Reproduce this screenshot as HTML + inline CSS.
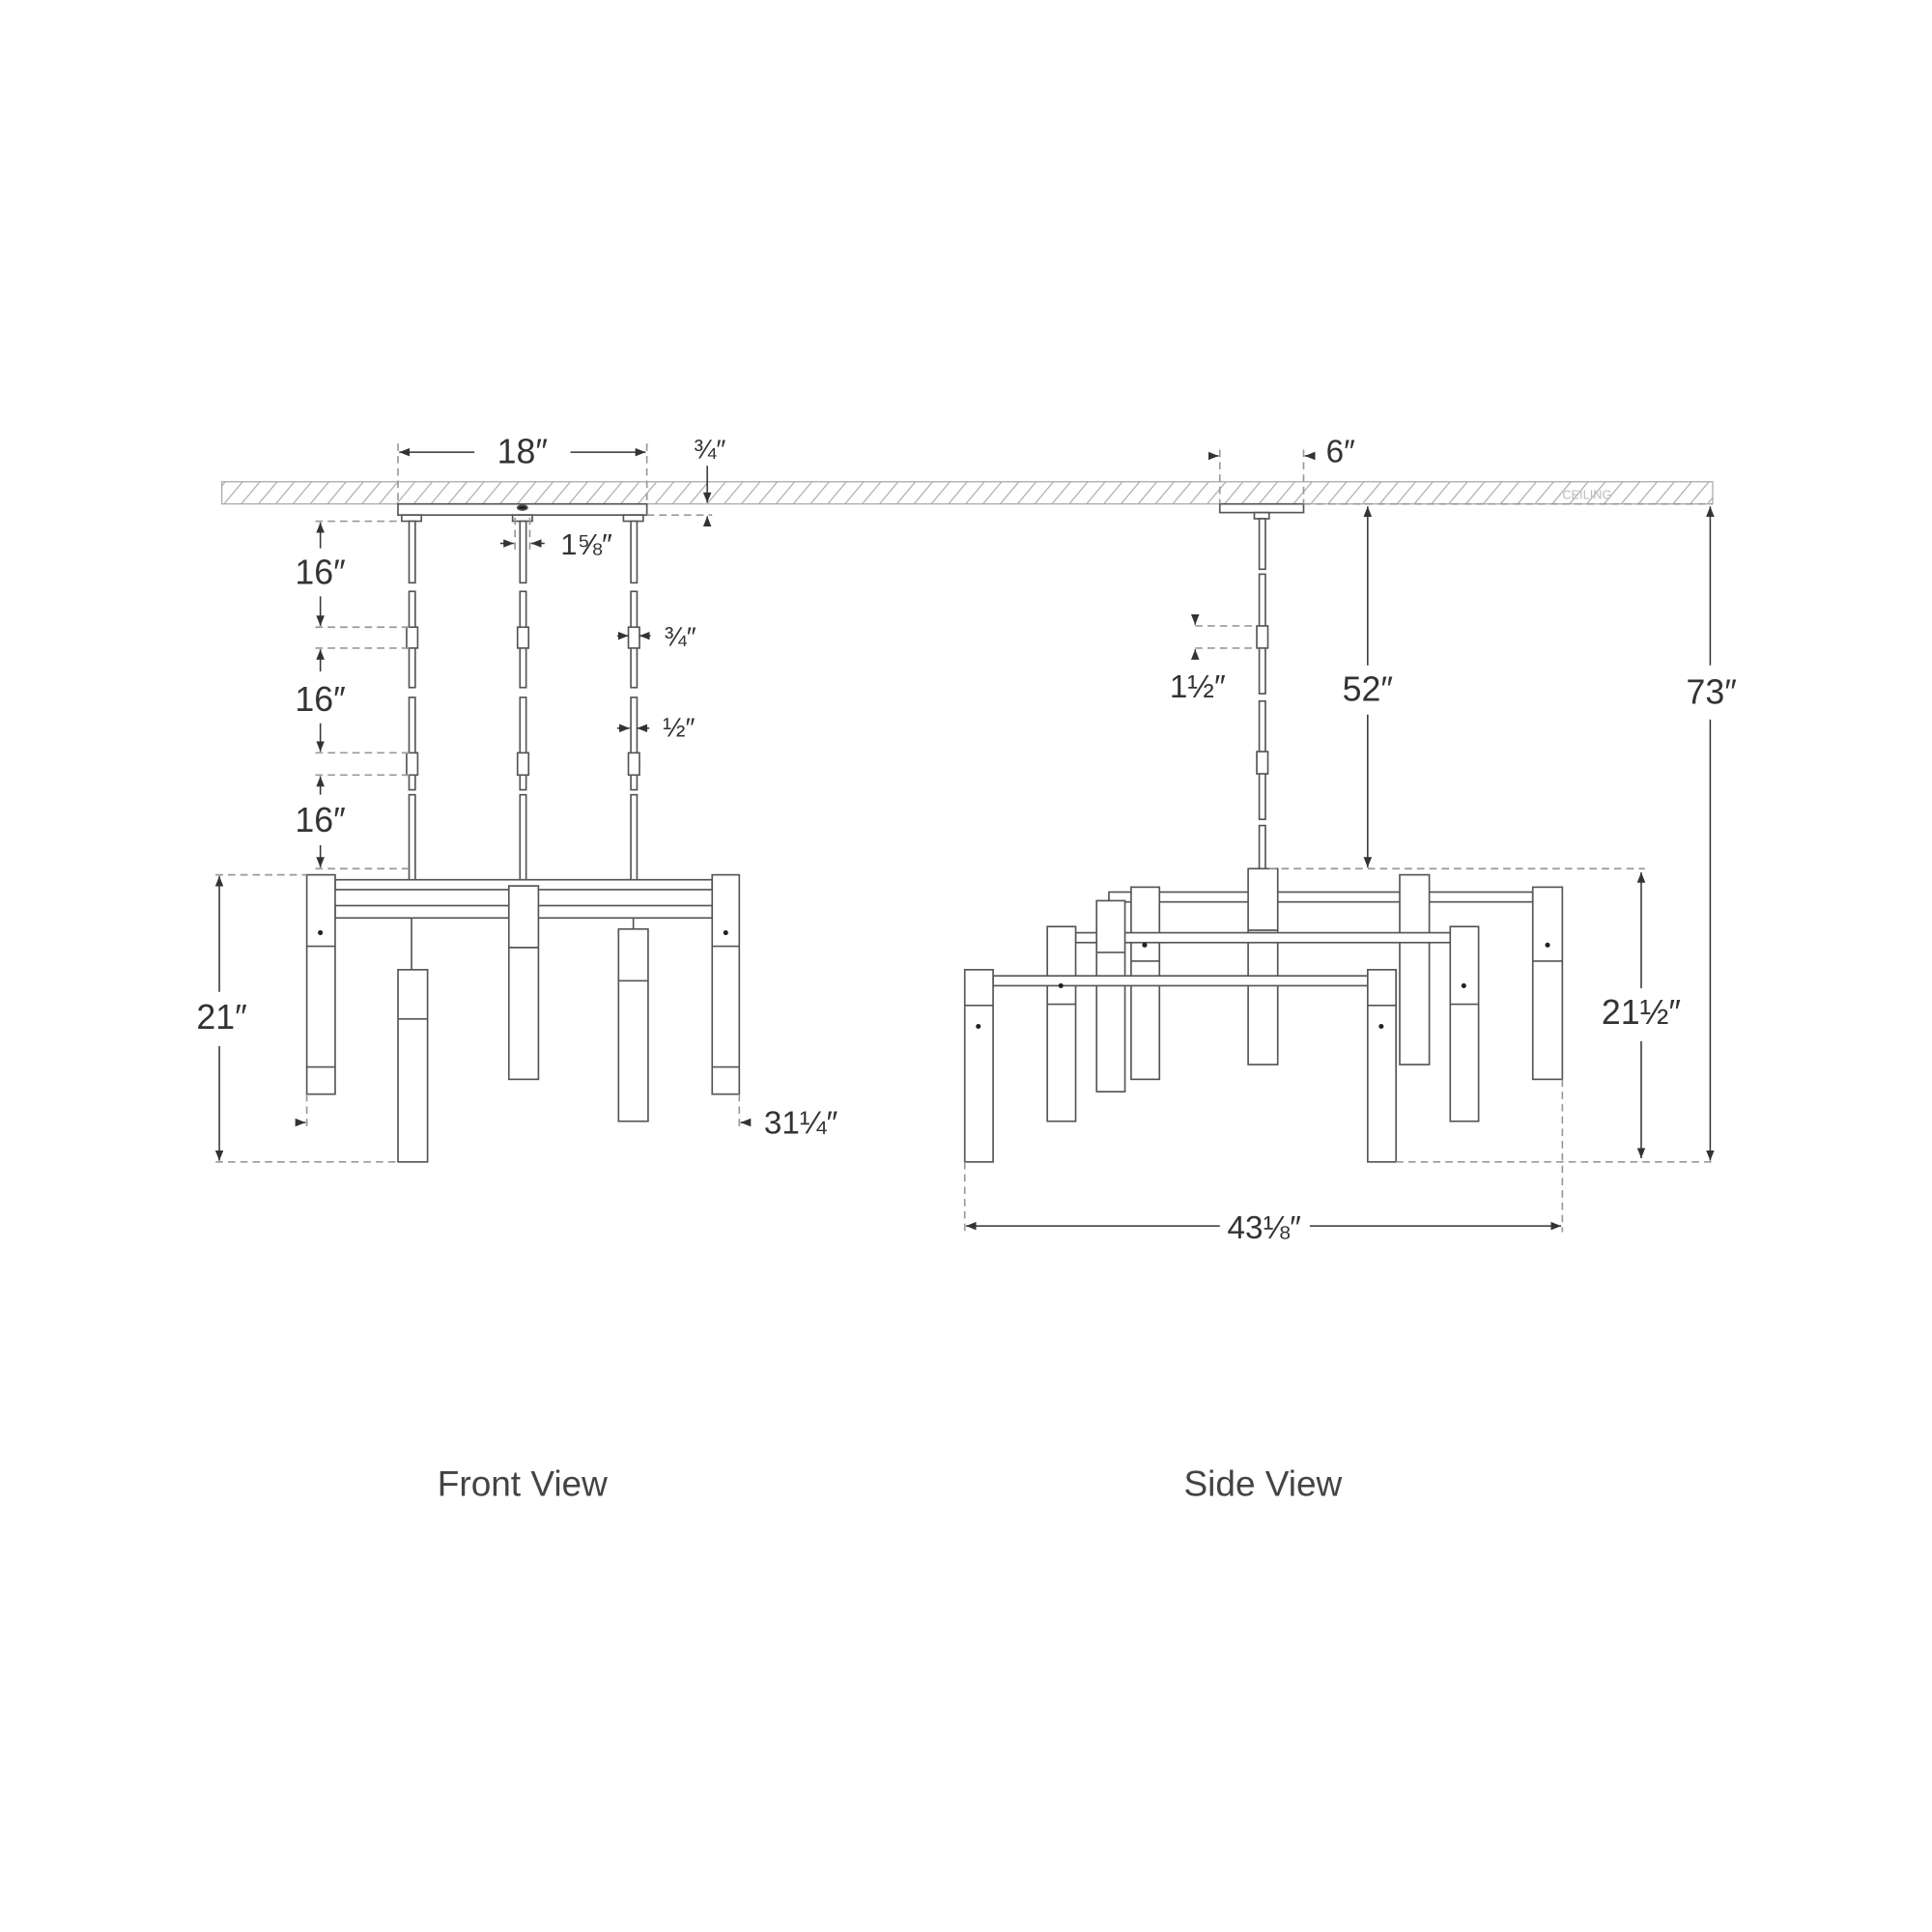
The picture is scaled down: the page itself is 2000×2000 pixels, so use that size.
<!DOCTYPE html>
<html><head><meta charset="utf-8"><style>html,body{margin:0;padding:0;background:#fff}svg{display:block}</style></head>
<body>
<svg width="2000" height="2000" viewBox="0 0 1568 1568" xmlns="http://www.w3.org/2000/svg" font-family="Liberation Sans, sans-serif">
<defs>
<pattern id="h" width="14" height="18" patternUnits="userSpaceOnUse" patternTransform="skewX(-40)">
<line x1="7" y1="0" x2="7" y2="18" stroke="#aaa" stroke-width="1.2"/></pattern>
<marker id="a" viewBox="0 0 10 10" refX="10" refY="5" markerWidth="7" markerHeight="7" orient="auto-start-reverse"><path d="M0,1 L10,5 L0,9z" fill="#333"/></marker>
</defs>
<rect x="180" y="391" width="1210" height="18" fill="url(#h)" stroke="#aaa" stroke-width="1"/>
<text x="1288" y="405" font-size="10" fill="#bbb" text-anchor="middle">CEILING</text>

<g stroke="#555" stroke-width="1.3" fill="#fff">
<rect x="323" y="409" width="202" height="9"/>
<rect x="326" y="418" width="16" height="5"/><rect x="416" y="418" width="16" height="5"/><rect x="506" y="418" width="16" height="5"/>
<ellipse cx="424" cy="412" rx="4" ry="2" fill="#222"/>
<g id="rod">
<rect x="332" y="423" width="5" height="50"/>
<rect x="332" y="480" width="5" height="78"/>
<rect x="330" y="509" width="9" height="17"/>
<rect x="332" y="566" width="5" height="75"/>
<rect x="330" y="611" width="9" height="18"/>
<rect x="332" y="645" width="5" height="70"/>
</g>
<use href="#rod" x="90"/><use href="#rod" x="180"/>
<rect x="272" y="714" width="306" height="8"/>
<rect x="272" y="735" width="306" height="10"/>
<line x1="334" y1="745" x2="334" y2="787"/><line x1="514" y1="745" x2="514" y2="754"/>
<rect x="249" y="710" width="23" height="178"/><line x1="249" y1="768" x2="272" y2="768"/><line x1="249" y1="866" x2="272" y2="866"/>
<rect x="578" y="710" width="22" height="178"/><line x1="578" y1="768" x2="600" y2="768"/><line x1="578" y1="866" x2="600" y2="866"/>
<rect x="323" y="787" width="24" height="156"/><line x1="323" y1="827" x2="347" y2="827"/>
<rect x="413" y="719" width="24" height="157"/><line x1="413" y1="769" x2="437" y2="769"/>
<rect x="502" y="754" width="24" height="156"/><line x1="502" y1="796" x2="526" y2="796"/>

<rect x="990" y="409" width="68" height="7"/>
<rect x="1018" y="416" width="12" height="5"/>
<rect x="1022" y="421" width="5" height="41"/>
<rect x="1022" y="466" width="5" height="97"/>
<rect x="1020" y="508" width="9" height="18"/>
<rect x="1022" y="569" width="5" height="96"/>
<rect x="1020" y="610" width="9" height="18"/>
<rect x="1022" y="670" width="5" height="37"/>
<rect x="900" y="724" width="344" height="8"/>
<rect x="918" y="720" width="23" height="156"/><line x1="918" y1="780" x2="941" y2="780"/>
<rect x="1244" y="720" width="24" height="156"/><line x1="1244" y1="780" x2="1268" y2="780"/>
<rect x="1013" y="705" width="24" height="159"/><line x1="1013" y1="755" x2="1037" y2="755"/>
<rect x="1136" y="710" width="24" height="154"/><line x1="1136" y1="763" x2="1160" y2="763"/>
<rect x="873" y="757" width="304" height="8"/>
<rect x="890" y="731" width="23" height="155"/><line x1="890" y1="773" x2="913" y2="773"/>
<rect x="850" y="752" width="23" height="158"/><line x1="850" y1="815" x2="873" y2="815"/>
<rect x="1177" y="752" width="23" height="158"/><line x1="1177" y1="815" x2="1200" y2="815"/>
<rect x="806" y="792" width="304" height="8"/>
<rect x="783" y="787" width="23" height="156"/><line x1="783" y1="816" x2="806" y2="816"/>
<rect x="1110" y="787" width="23" height="156"/><line x1="1110" y1="816" x2="1133" y2="816"/>
</g>
<g fill="#222">
<circle cx="260" cy="757" r="2"/><circle cx="589" cy="757" r="2"/>
<circle cx="794" cy="833" r="2"/><circle cx="1121" cy="833" r="2"/>
<circle cx="861" cy="800" r="2"/><circle cx="1188" cy="800" r="2"/>
<circle cx="929" cy="767" r="2"/><circle cx="1256" cy="767" r="2"/>
</g>

<g stroke="#999" stroke-width="1.3" stroke-dasharray="6,4" fill="none">
<line x1="323" y1="360" x2="323" y2="409"/><line x1="525" y1="360" x2="525" y2="409"/>
<line x1="525" y1="418" x2="578" y2="418"/>
<line x1="418" y1="420" x2="418" y2="446"/><line x1="430" y1="420" x2="430" y2="446"/>
<line x1="256" y1="423" x2="323" y2="423"/>
<line x1="256" y1="509" x2="332" y2="509"/><line x1="256" y1="526" x2="332" y2="526"/>
<line x1="256" y1="611" x2="332" y2="611"/><line x1="256" y1="629" x2="332" y2="629"/>
<line x1="256" y1="705" x2="332" y2="705"/>
<line x1="175" y1="710" x2="249" y2="710"/><line x1="175" y1="943" x2="323" y2="943"/>
<line x1="249" y1="888" x2="249" y2="915"/><line x1="600" y1="888" x2="600" y2="915"/>
<line x1="990" y1="365" x2="990" y2="409"/><line x1="1058" y1="365" x2="1058" y2="409"/>
<line x1="970" y1="508" x2="1020" y2="508"/><line x1="970" y1="526" x2="1020" y2="526"/>
<line x1="1030" y1="705" x2="1335" y2="705"/><line x1="1058" y1="409" x2="1390" y2="409"/>
<line x1="1133" y1="943" x2="1392" y2="943"/>
<line x1="783" y1="943" x2="783" y2="1000"/><line x1="1268" y1="876" x2="1268" y2="1000"/>
</g>

<g stroke="#333" stroke-width="1.2" fill="none">
<line x1="324" y1="367" x2="385" y2="367" marker-start="url(#a)"/><line x1="463" y1="367" x2="524" y2="367" marker-end="url(#a)"/>
<line x1="574" y1="378" x2="574" y2="408" marker-end="url(#a)"/><line x1="574" y1="427" x2="574" y2="419" marker-end="url(#a)"/>
<line x1="406" y1="441" x2="417" y2="441" marker-end="url(#a)"/><line x1="442" y1="441" x2="431" y2="441" marker-end="url(#a)"/>
<line x1="260" y1="445" x2="260" y2="424" marker-end="url(#a)"/><line x1="260" y1="484" x2="260" y2="508" marker-end="url(#a)"/>
<line x1="260" y1="545" x2="260" y2="527" marker-end="url(#a)"/><line x1="260" y1="587" x2="260" y2="610" marker-end="url(#a)"/>
<line x1="260" y1="645" x2="260" y2="630" marker-end="url(#a)"/><line x1="260" y1="686" x2="260" y2="704" marker-end="url(#a)"/>
<line x1="501" y1="516" x2="510" y2="516" marker-end="url(#a)"/><line x1="528" y1="516" x2="519" y2="516" marker-end="url(#a)"/>
<line x1="501" y1="591" x2="511" y2="591" marker-end="url(#a)"/><line x1="527" y1="591" x2="517" y2="591" marker-end="url(#a)"/>
<line x1="178" y1="805" x2="178" y2="711" marker-end="url(#a)"/><line x1="178" y1="849" x2="178" y2="942" marker-end="url(#a)"/>
<line x1="240" y1="911" x2="248" y2="911" marker-end="url(#a)"/><line x1="609" y1="911" x2="601" y2="911" marker-end="url(#a)"/>
<line x1="981" y1="370" x2="989" y2="370" marker-end="url(#a)"/><line x1="1067" y1="370" x2="1059" y2="370" marker-end="url(#a)"/>
<line x1="970" y1="499" x2="970" y2="507" marker-end="url(#a)"/><line x1="970" y1="535" x2="970" y2="527" marker-end="url(#a)"/>
<line x1="1110" y1="540" x2="1110" y2="411" marker-end="url(#a)"/><line x1="1110" y1="580" x2="1110" y2="704" marker-end="url(#a)"/>
<line x1="1388" y1="540" x2="1388" y2="411" marker-end="url(#a)"/><line x1="1388" y1="584" x2="1388" y2="942" marker-end="url(#a)"/>
<line x1="1332" y1="802" x2="1332" y2="708" marker-end="url(#a)"/><line x1="1332" y1="845" x2="1332" y2="940" marker-end="url(#a)"/>
<line x1="990" y1="995" x2="784" y2="995" marker-end="url(#a)"/><line x1="1063" y1="995" x2="1267" y2="995" marker-end="url(#a)"/>
</g>

<g fill="#333" font-size="28" text-anchor="middle">
<text x="424" y="376">18″</text>
<text x="576" y="372" font-size="22">¾″</text>
<text x="476" y="450" font-size="24">1⅝″</text>
<text x="260" y="474">16″</text><text x="260" y="577">16″</text><text x="260" y="675">16″</text>
<text x="552" y="524" font-size="22">¾″</text>
<text x="551" y="598" font-size="22">½″</text>
<text x="180" y="835">21″</text>
<text x="650" y="920" font-size="26">31¼″</text>
<text x="1088" y="375" font-size="26">6″</text>
<text x="972" y="566" font-size="26">1½″</text>
<text x="1110" y="569">52″</text>
<text x="1389" y="571">73″</text>
<text x="1332" y="831">21½″</text>
<text x="1026" y="1005" font-size="26">43⅛″</text>
</g>
<g fill="#444" font-size="29" text-anchor="middle">
<text x="424" y="1214">Front View</text>
<text x="1025" y="1214">Side View</text>
</g>
</svg>
</body></html>
